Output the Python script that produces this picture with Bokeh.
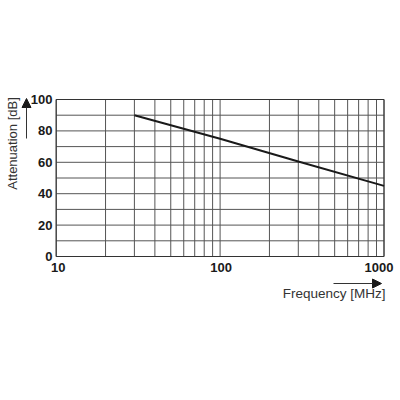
import math
from bokeh.plotting import figure
from bokeh.models import Range1d, Arrow, NormalHead
from bokeh.core.properties import value
from bokeh.embed import file_html
from bokeh.resources import INLINE

# data
freq_mhz = [30, 100, 300, 1000]
atten_db = [90, 75, 60.5, 45]
x_major = [10, 100, 1000]
x_major_labels = ["10", "100", "1000"]
x_grid = [10, 20, 30, 40, 50, 60, 70, 80, 90, 100,
          200, 300, 400, 500, 600, 700, 800, 900, 1000]
y_major = [0, 20, 40, 60, 80, 100]
y_major_labels = ["0", "20", "40", "60", "80", "100"]
y_grid = [0, 10, 20, 30, 40, 50, 60, 70, 80, 90, 100]
x_min, x_max = 10, 1000
y_min, y_max = 0, 100

FONT = value("Liberation Sans")
W, H = 396, 396
# layout of the chart box on the canvas (pixels)
FL, FR, FT, FB = 55.7, 383.5, 99.0, 256.0
dec_px = (FR - FL) / (math.log10(x_max) - math.log10(x_min))
ypx = (FB - FT) / (y_max - y_min)


def px_to_x(px):
    return 10 ** (math.log10(x_min) + (px - FL) / dec_px)


def py_to_y(py):
    return y_min + (FB - py) / ypx


p = figure(width=W, height=H, x_axis_type="log",
           x_range=Range1d(px_to_x(0), px_to_x(W)),
           y_range=Range1d(py_to_y(H), py_to_y(0)),
           min_border=0, output_backend="svg", toolbar_location=None,
           background_fill_color="white", border_fill_color="white")
p.outline_line_color = None
p.axis.visible = False
p.grid.visible = False

GRID = "#555555"
# grid lines
p.segment(x0=x_grid, y0=[y_min] * len(x_grid), x1=x_grid, y1=[y_max] * len(x_grid),
          line_color=GRID, line_width=1)
p.segment(x0=[x_min] * len(y_grid), y0=y_grid, x1=[x_max] * len(y_grid), y1=y_grid,
          line_color=GRID, line_width=1)
# box
p.quad(left=[x_min], right=[x_max], bottom=[y_min], top=[y_max],
       fill_color=None, line_color="#333333", line_width=1)

# curve
p.line(freq_mhz, atten_db, line_color="#1a1a1a", line_width=2)

# tick labels
p.text(x=[px_to_x(52)] * len(y_major), y=y_major, text=y_major_labels,
       text_align="right", text_baseline="middle", text_font=FONT,
       text_font_style="bold", text_font_size="13px", text_color="#1a1a1a")
p.text(x=x_major, y=[py_to_y(267)] * len(x_major), text=x_major_labels,
       x_offset=[2, 1, -5],
       text_align="center", text_baseline="middle", text_font=FONT,
       text_font_style="bold", text_font_size="13px", text_color="#1a1a1a")

# axis titles
p.text(x=[px_to_x(12)], y=[py_to_y(143)], text=["Attenuation [dB]"], angle=math.pi / 2,
       text_align="center", text_baseline="middle", text_font=FONT,
       text_font_size="13px", text_color="#333333")
p.text(x=[px_to_x(385)], y=[py_to_y(293)], text=["Frequency [MHz]"],
       text_align="right", text_baseline="middle", text_font=FONT,
       text_font_size="13.5px", text_color="#333333")

# arrows
p.add_layout(Arrow(end=NormalHead(size=9, fill_color="#1a1a1a", line_color="#1a1a1a"),
                   x_start=px_to_x(26), y_start=py_to_y(138),
                   x_end=px_to_x(26), y_end=py_to_y(98),
                   line_color="#333333", line_width=1))
p.add_layout(Arrow(end=NormalHead(size=9, fill_color="#1a1a1a", line_color="#1a1a1a"),
                   x_start=px_to_x(333), y_start=py_to_y(283),
                   x_end=px_to_x(381), y_end=py_to_y(283),
                   line_color="#333333", line_width=1))

open("out.html", "w").write(file_html(p, INLINE))
